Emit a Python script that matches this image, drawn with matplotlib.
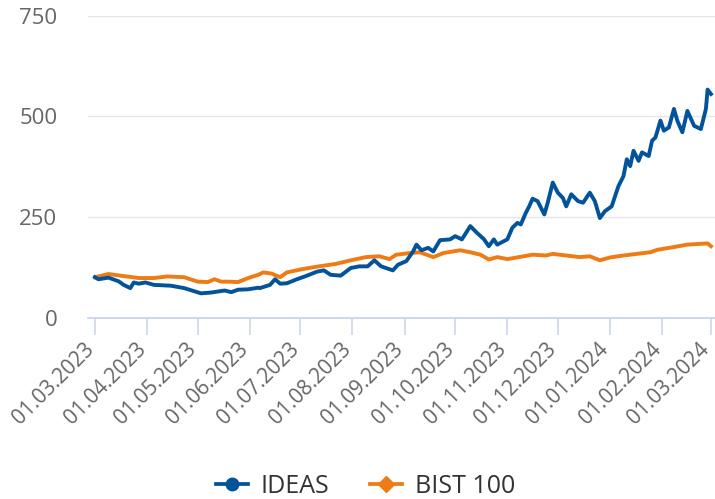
import matplotlib
matplotlib.use("Agg")
import matplotlib.pyplot as plt
import matplotlib.dates as mdates
import matplotlib.transforms as mtransforms
import pandas as pd

plt.rcParams["font.family"] = ["Open Sans", "DejaVu Sans"]

# values (index, start = 100)
IDEAS_DATES = [
    "2023-03-01", "2023-03-03", "2023-03-09", "2023-03-15", "2023-03-18", "2023-03-22",
    "2023-03-24", "2023-03-27", "2023-03-31", "2023-04-05", "2023-04-15", "2023-04-23",
    "2023-05-03", "2023-05-09", "2023-05-17", "2023-05-21", "2023-05-25", "2023-05-31",
    "2023-06-06", "2023-06-07", "2023-06-13", "2023-06-16", "2023-06-19", "2023-06-23",
    "2023-06-29", "2023-07-05", "2023-07-11", "2023-07-15", "2023-07-19", "2023-07-25",
    "2023-07-31", "2023-08-05", "2023-08-10", "2023-08-14", "2023-08-18", "2023-08-25",
    "2023-08-28", "2023-09-02", "2023-09-06", "2023-09-08", "2023-09-11", "2023-09-15",
    "2023-09-18", "2023-09-22", "2023-09-28", "2023-10-01", "2023-10-05", "2023-10-10",
    "2023-10-14", "2023-10-18", "2023-10-21", "2023-10-24", "2023-10-26", "2023-11-01",
    "2023-11-04", "2023-11-07", "2023-11-09", "2023-11-12", "2023-11-14", "2023-11-16",
    "2023-11-19", "2023-11-23", "2023-11-25", "2023-11-28", "2023-12-01", "2023-12-04",
    "2023-12-06", "2023-12-09", "2023-12-13", "2023-12-16", "2023-12-20", "2023-12-23",
    "2023-12-26", "2023-12-29", "2024-01-02", "2024-01-06", "2024-01-09", "2024-01-11",
    "2024-01-13", "2024-01-15", "2024-01-18", "2024-01-20", "2024-01-24", "2024-01-26",
    "2024-01-28", "2024-01-31", "2024-02-02", "2024-02-05", "2024-02-08", "2024-02-10",
    "2024-02-13", "2024-02-16", "2024-02-20", "2024-02-24", "2024-02-27", "2024-02-28",
    "2024-03-01",
]
IDEAS_VALS = [
    100, 95, 99, 90, 81, 73,
    87, 84, 87, 81, 79, 73,
    60, 62, 67, 63, 69, 70,
    74, 73, 81, 95, 84, 85,
    95, 104, 114, 117, 106, 104,
    123, 127, 127, 142, 127, 117,
    131, 140, 164, 181, 167, 173,
    164, 192, 194, 202, 194, 227,
    210, 195, 177, 194, 181, 194,
    223, 235, 231, 260, 276, 295,
    289, 256, 285, 335, 310, 297,
    276, 306, 289, 285, 310, 289,
    247, 264, 276, 326, 351, 393,
    376, 414, 389, 410, 401, 439,
    447, 489, 464, 472, 518, 489,
    460, 513, 476, 468, 518, 566,
    555,
]

BIST_DATES = [
    "2023-03-01", "2023-03-09", "2023-03-16", "2023-03-27", "2023-04-05", "2023-04-13",
    "2023-04-23", "2023-05-01", "2023-05-07", "2023-05-11", "2023-05-15", "2023-05-19",
    "2023-05-25", "2023-05-31", "2023-06-06", "2023-06-09", "2023-06-14", "2023-06-19",
    "2023-06-23", "2023-07-02", "2023-07-12", "2023-07-22", "2023-07-31", "2023-08-09",
    "2023-08-17", "2023-08-23", "2023-08-27", "2023-09-04", "2023-09-10", "2023-09-18",
    "2023-09-24", "2023-10-04", "2023-10-10", "2023-10-16", "2023-10-21", "2023-10-26",
    "2023-11-01", "2023-11-08", "2023-11-16", "2023-11-24", "2023-11-28", "2023-12-06",
    "2023-12-14", "2023-12-20", "2023-12-26", "2024-01-01", "2024-01-09", "2024-01-17",
    "2024-01-25", "2024-01-29", "2024-02-08", "2024-02-16", "2024-02-24", "2024-02-28",
    "2024-03-01",
]
BIST_VALS = [
    100, 108, 104, 98, 98, 102,
    100, 89, 88, 95, 89, 89,
    88, 98, 106, 112, 109, 100,
    112, 120, 127, 133, 142, 150,
    152, 145, 156, 160, 162, 150,
    160, 167, 162, 156, 144, 150,
    145, 150, 156, 154, 158, 154,
    150, 152, 142, 149, 154, 158,
    162, 168, 175, 181, 183, 184,
    177,
]

Y_TICKS = [0, 250, 500, 750]
BLUE = "#02539a"
ORANGE = "#ef7b15"

ideas_x = pd.to_datetime(IDEAS_DATES)
bist_x = pd.to_datetime(BIST_DATES)

fig = plt.figure(figsize=(7.15, 4.99), dpi=100)
ax = fig.add_axes([88 / 715, 181.5 / 499, 627 / 715, 302 / 499])

ax.plot(bist_x, BIST_VALS, color=ORANGE, lw=2.8, solid_joinstyle="round", zorder=3)
ax.plot(ideas_x, IDEAS_VALS, color=BLUE, lw=2.8, solid_joinstyle="round", zorder=4)

start = pd.Timestamp("2023-03-01")
ax.set_xlim(start - pd.Timedelta(days=4.16), start + pd.Timedelta(days=368.4))
ax.set_ylim(0, 750)
ax.set_yticks(Y_TICKS)

ax.xaxis.set_major_locator(mdates.MonthLocator(bymonthday=1))
ax.xaxis.set_major_formatter(mdates.DateFormatter("%d.%m.%Y"))

ax.grid(axis="y", color="#e6e6e6", lw=1)
ax.set_axisbelow(True)
for s in ["top", "right", "left"]:
    ax.spines[s].set_visible(False)
ax.spines["bottom"].set_color("#ccd6eb")
ax.spines["bottom"].set_linewidth(1.3)

ax.tick_params(axis="y", length=0, pad=22, labelsize=16, labelcolor="#666666")
ax.tick_params(axis="x", length=12.5, width=1.2, color="#ccd6eb", pad=3,
               labelsize=15, labelcolor="#666666")
shift = mtransforms.ScaledTranslation(3 / 100, 0, fig.dpi_scale_trans)
for lbl in ax.get_xticklabels():
    lbl.set_rotation(45)
    lbl.set_ha("right")
    lbl.set_transform(lbl.get_transform() + shift)

h1, = ax.plot([], [], color=BLUE, lw=2.7, marker="o", ms=9)
h2, = ax.plot([], [], color=ORANGE, lw=2.7, marker="D", ms=8)
fig.legend([h1, h2], ["IDEAS", "BIST 100"], loc="center",
           bbox_to_anchor=(0.511, 0.026), ncol=2, frameon=False,
           fontsize=18, labelcolor="#333333", handlelength=1.3,
           handletextpad=0.5, columnspacing=1.6)

fig.savefig("out.png", dpi=100)
